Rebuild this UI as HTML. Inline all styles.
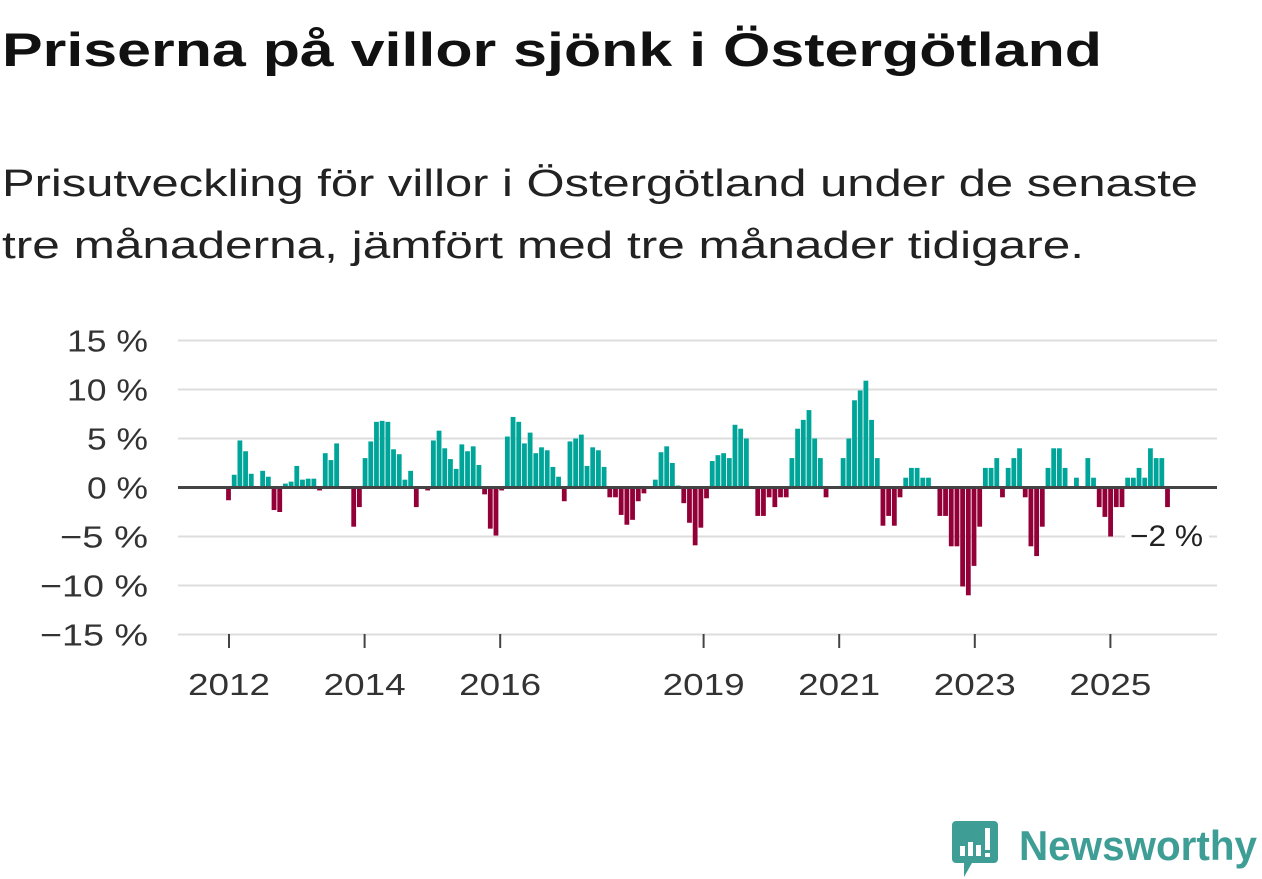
<!DOCTYPE html>
<html><head><meta charset="utf-8"><style>
html,body{margin:0;padding:0;background:#fff;}
svg{display:block;font-family:"Liberation Sans",sans-serif;}
</style></head><body>
<svg id="chart" width="1262" height="879" viewBox="0 0 1262 879">
<text x="2" y="66" font-size="47" font-weight="bold" fill="#111" textLength="1100" lengthAdjust="spacingAndGlyphs">Priserna på villor sjönk i Östergötland</text>
<text x="2" y="196" font-size="38" fill="#222" textLength="1196" lengthAdjust="spacingAndGlyphs">Prisutveckling för villor i Östergötland under de senaste</text>
<text x="2" y="258" font-size="38" fill="#222" textLength="1082" lengthAdjust="spacingAndGlyphs">tre månaderna, jämfört med tre månader tidigare.</text>
<g id="grid"></g>
<g id="bars"></g>
<g id="xaxis"></g>
<rect x="1125" y="516" width="84" height="38" fill="#fff"/>
<text x="1130" y="546" font-size="30" fill="#222" textLength="73" lengthAdjust="spacingAndGlyphs">−2 %</text>
<g>
<path d="M956 821 h38 a4 4 0 0 1 4 4 v34 a4 4 0 0 1 -4 4 h-22 l-8 14 v-14 h-8 a4 4 0 0 1 -4 -4 v-34 a4 4 0 0 1 4 -4z" fill="#3e9e96"/>
<rect x="960" y="846" width="5" height="10" fill="#fff"/><rect x="968" y="842" width="5" height="14" fill="#fff"/><rect x="976" y="845" width="5" height="11" fill="#fff"/><rect x="985" y="828" width="5" height="22" fill="#fff"/><rect x="985" y="853" width="5" height="4" fill="#fff"/>
<text x="1019" y="860" font-size="42" font-weight="bold" fill="#3e9e96" textLength="238" lengthAdjust="spacingAndGlyphs">Newsworthy</text>
</g>
</svg>
<script>
const values = [-1.3,1.3,4.8,3.7,1.4,0,1.7,1.1,-2.3,-2.5,0.4,0.6,2.2,0.8,0.9,0.9,-0.3,3.5,2.8,4.5,0,0,-4,-2,3.0,4.7,6.7,6.8,6.7,3.9,3.4,0.8,1.7,-2,0,-0.3,4.8,5.8,4.0,2.9,1.9,4.4,3.7,
4.2,2.3,-0.7,-4.2,-4.9,-0.3,5.2,7.2,6.7,4.5,5.6,3.5,4.1,3.8,2.1,1.1,-1.4,4.7,5.0,5.4,2.2,4.1,3.8,2.1,
-1,-1,-2.8,-3.8,-3.3,-1.4,-0.6,0,0.8,3.6,4.2,2.5,0.2,-1.6,-3.6,-5.9,-4.1,-1.1,
2.7,3.3,3.5,3.0,6.4,6.0,5.0,0,-2.9,-2.9,-1,-2,-1,-1,3,6,6.9,7.9,5,3,-1,0,0,
3,5,8.9,9.9,10.9,6.9,3,-3.9,-2.9,-3.9,-1,1,2,2,1,1,0,-2.9,-2.9,
-6,-6,-10.1,-11,-8,-4,2,2,3,-1,2,3,4,-1,-6,-7,-4,2,4,4,2,0,1,0,3,1,-2,-3,-5,-2,-2,1,1,2,1,4,3,3,-2];
const yTicks = [15,10,5,0,-5,-10,-15];
const yTickLabels = ["15 %","10 %","5 %","0 %","−5 %","−10 %","−15 %"];
const xTickYears = [2012,2014,2016,2019,2021,2023,2025];
const NS="http://www.w3.org/2000/svg";
const y = v => 487.5 - v*9.8;
const xYear = yr => 229 + (yr-2012)*67.8;
const step = (1167.5-228.5)/(values.length-1);
const xBar = i => 228.5 + i*step;
function mk(tag, attrs, parent){const e=document.createElementNS(NS,tag);for(const k in attrs)e.setAttribute(k,attrs[k]);parent.appendChild(e);return e;}
const grid=document.getElementById('grid'), bars=document.getElementById('bars'), xa=document.getElementById('xaxis');
yTicks.forEach((t,i)=>{
  if(t!==0){const l=mk('line',{x1:178,x2:1217,y1:y(t),y2:y(t),stroke:'#ddd','stroke-width':2},grid);
  
  }
  const lbl=yTickLabels[i];
  const w=(lbl.replace(/[^0-9]/g,'').length)*20 + (lbl.indexOf('−')>=0?27:0) + 41;
  const tx=mk('text',{x:148,y:y(t)+11,'font-size':31,fill:'#333','text-anchor':'end',textLength:w,lengthAdjust:'spacingAndGlyphs'},grid);
  tx.textContent=lbl;
  
  
});
values.forEach((v,i)=>{
  if(v===0)return;
  const r=mk('rect',{x:xBar(i)-2.4,width:4.8,y:Math.min(y(v),y(0)),height:Math.abs(y(v)-y(0)),fill:v>0?'#00a59a':'#930038'},bars);
  
  
});
const z=mk('line',{x1:178,x2:1217,y1:y(0),y2:y(0),stroke:'#444','stroke-width':3},bars);


xTickYears.forEach(yr=>{
  const t=mk('line',{x1:xYear(yr),x2:xYear(yr),y1:634,y2:648,stroke:'#444','stroke-width':2},xa);
  
  
  const tx=mk('text',{x:xYear(yr)-41,y:695,'font-size':31,fill:'#333',textLength:82,lengthAdjust:'spacingAndGlyphs'},xa);
  tx.textContent=yr;
  
  
});
</script>
</body></html>
